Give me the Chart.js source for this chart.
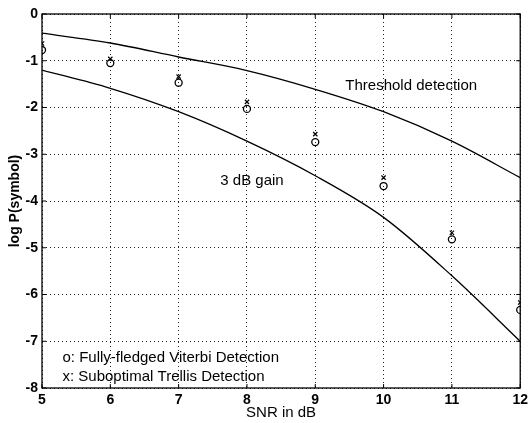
<!DOCTYPE html>
<html lang="en">
<head>
    <meta charset="UTF-8">
    <title>log P(symbol) vs SNR</title>
    <style>
        body { margin: 0; padding: 0; background: #fff; }
        #wrap { width: 532px; height: 423px; }
    </style>
    <script src="https://cdn.jsdelivr.net/npm/chart.js"></script>
</head>
<body>
    <div id="wrap"><canvas id="chart"></canvas></div>
    <script>
        // SNR in dB
        var snr = [5, 6, 7, 8, 9, 10, 11, 12];
        // curves
        var threshold = [-0.41, -0.62, -0.92, -1.21, -1.61, -2.09, -2.72, -3.5];
        var gain3dB = [-1.2, -1.59, -2.09, -2.72, -3.46, -4.35, -5.6, -7.0];
        // simulated points
        var viterbi = [-0.77, -1.05, -1.47, -2.03, -2.74, -3.68, -4.82, -6.33];
        var trellis = [-0.63, -0.96, -1.34, -1.88, -2.57, -3.5, -4.68, -6.17];

        var notes = [
            { text: 'Threshold detection', x: 9.44, y: -1.53 },
            { text: '3 dB gain', x: 7.61, y: -3.57 },
            { text: 'o: Fully-fledged Viterbi Detection', x: 5.3, y: -7.36 },
            { text: 'x: Suboptimal Trellis Detection', x: 5.3, y: -7.76 }
        ];

        function pts(ys) {
            return snr.map(function(x, i) { return { x: x, y: ys[i] }; });
        }

        var FONT = '"Liberation Sans", Arial, Helvetica, sans-serif';

        // frame, inward ticks and text notes
        var framePlugin = {
            id: 'frame',
            afterDraw: function(chart) {
                var ctx = chart.ctx, a = chart.chartArea;
                var sx = chart.scales.x, sy = chart.scales.y;
                ctx.save();
                ctx.strokeStyle = '#000';
                ctx.lineWidth = 1.3;
                ctx.strokeRect(a.left, a.top, a.right - a.left, a.bottom - a.top);
                ctx.lineWidth = 1;
                ctx.beginPath();
                sx.ticks.forEach(function(t) {
                    var px = sx.getPixelForValue(t.value);
                    ctx.moveTo(px, a.bottom); ctx.lineTo(px, a.bottom - 4);
                    ctx.moveTo(px, a.top); ctx.lineTo(px, a.top + 4);
                });
                sy.ticks.forEach(function(t) {
                    var py = sy.getPixelForValue(t.value);
                    ctx.moveTo(a.left, py); ctx.lineTo(a.left + 4, py);
                    ctx.moveTo(a.right, py); ctx.lineTo(a.right - 4, py);
                });
                ctx.stroke();
                ctx.fillStyle = '#000';
                ctx.font = '15px ' + FONT;
                ctx.textBaseline = 'middle';
                ctx.textAlign = 'left';
                notes.forEach(function(n) {
                    ctx.fillText(n.text, sx.getPixelForValue(n.x), sy.getPixelForValue(n.y));
                });
                ctx.restore();
            }
        };

        document.addEventListener('DOMContentLoaded', function() {
            var ctx = document.getElementById('chart').getContext('2d');
            new Chart(ctx, {
                type: 'line',
                data: {
                    datasets: [
                        {
                            label: 'Threshold detection',
                            data: pts(threshold),
                            borderColor: '#000',
                            borderWidth: 1.3,
                            pointRadius: 0,
                            cubicInterpolationMode: 'monotone'
                        },
                        {
                            label: '3 dB gain',
                            data: pts(gain3dB),
                            borderColor: '#000',
                            borderWidth: 1.3,
                            pointRadius: 0,
                            cubicInterpolationMode: 'monotone'
                        },
                        {
                            label: 'Fully-fledged Viterbi Detection',
                            data: pts(viterbi),
                            showLine: false,
                            pointStyle: 'circle',
                            pointRadius: 3.5,
                            pointBorderWidth: 1.3,
                            pointBorderColor: '#000',
                            pointBackgroundColor: 'rgba(0,0,0,0)'
                        },
                        {
                            label: 'Suboptimal Trellis Detection',
                            data: pts(trellis),
                            showLine: false,
                            pointStyle: 'crossRot',
                            pointRadius: 3,
                            pointBorderWidth: 1.2,
                            pointBorderColor: '#000'
                        }
                    ]
                },
                options: {
                    responsive: true,
                    maintainAspectRatio: false,
                    animation: false,
                    layout: { padding: { top: 14, right: 9, left: 0, bottom: 0 } },
                    plugins: {
                        legend: { display: false },
                        tooltip: { enabled: false }
                    },
                    scales: {
                        x: {
                            type: 'linear',
                            min: 5,
                            max: 12,
                            ticks: {
                                stepSize: 1,
                                color: '#000',
                                padding: 4,
                                font: { family: FONT, size: 14, weight: 'bold' }
                            },
                            grid: { color: '#222', lineWidth: 1, drawTicks: false },
                            border: { display: false, dash: [1, 3] },
                            title: {
                                display: true,
                                text: 'SNR in dB',
                                color: '#000',
                                padding: { top: 0, bottom: 1 },
                                font: { family: FONT, size: 15 }
                            },
                            afterFit: function(s) { s.height = 35; }
                        },
                        y: {
                            min: -8,
                            max: 0,
                            ticks: {
                                stepSize: 1,
                                color: '#000',
                                padding: 4,
                                font: { family: FONT, size: 14, weight: 'bold' }
                            },
                            grid: { color: '#222', lineWidth: 1, drawTicks: false },
                            border: { display: false, dash: [1, 3] },
                            title: {
                                display: true,
                                text: 'log P(symbol)',
                                color: '#000',
                                padding: { top: 7, bottom: 0 },
                                font: { family: FONT, size: 14, weight: 'bold' }
                            },
                            afterFit: function(s) { s.width = 42; }
                        }
                    }
                },
                plugins: [framePlugin]
            });
        });
    </script>
</body>
</html>
